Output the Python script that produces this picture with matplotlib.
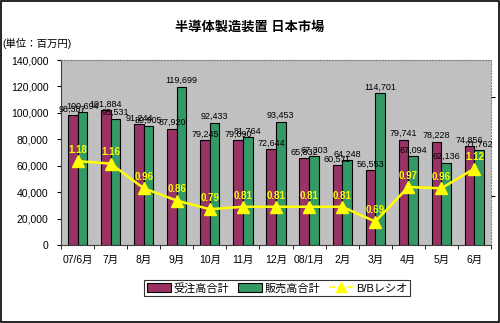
import matplotlib
matplotlib.use("Agg")
import matplotlib.pyplot as plt
import numpy as np
from matplotlib.patches import Rectangle
from matplotlib.lines import Line2D
from matplotlib.patches import Patch

plt.rcParams['font.family'] = ['Liberation Sans', 'Noto Sans CJK JP', 'DejaVu Sans']

categories = ['07/6月', '7月', '8月', '9月', '10月', '11月', '12月',
              '08/1月', '2月', '3月', '4月', '5月', '6月']
orders = [98387, 101884, 91244, 87920, 79245, 79090, 72644,
          65832, 60511, 56553, 79741, 78228, 74856]
sales = [100694, 95531, 89905, 119699, 92433, 81764, 93453,
         67303, 64248, 114701, 67094, 62136, 71762]
ratio = [1.18, 1.16, 0.96, 0.86, 0.79, 0.81, 0.81,
         0.81, 0.81, 0.69, 0.97, 0.96, 1.12]
yticks = [0, 20000, 40000, 60000, 80000, 100000, 120000, 140000]

W, H = 500, 323
fig = plt.figure(figsize=(W / 100, H / 100), dpi=100)
fig.patch.set_facecolor('white')
fig.add_artist(Rectangle((0.001, 0.002), 0.996, 0.995, transform=fig.transFigure,
                         fill=False, edgecolor='black', linewidth=1.2))

ax = fig.add_axes([61 / W, 1 - 245 / H, (491 - 61) / W, (245 - 60) / H])
ax.set_facecolor('#C0C0C0')
x = np.arange(len(categories))
bw = 0.29
c1, c2 = '#993366', '#339966'
b1 = ax.bar(x - bw / 2, orders, bw, color=c1, edgecolor='black', linewidth=0.8)
b2 = ax.bar(x + bw / 2, sales, bw, color=c2, edgecolor='black', linewidth=0.8)
ax.set_xlim(-0.5, len(categories) - 0.5)
ax.set_ylim(0, 140000)
ax.set_yticks(yticks)
ax.set_yticklabels([f'{v:,}' for v in yticks], fontsize=7.5)
ax.set_xticks(x)
ax.set_xticklabels(categories, fontsize=7.5)
ax.tick_params(axis='x', length=0, pad=7)
ax.set_xticks(np.arange(-0.5, len(categories), 1), minor=True)
ax.tick_params(axis='x', which='minor', length=3, direction='out')
ax.tick_params(axis='y', length=3, direction='out', pad=6)
for s in ['top', 'right']:
    ax.spines[s].set_color('#808080')
    ax.spines[s].set_linestyle(':')
ax.spines['left'].set_color('#404040')
ax.spines['bottom'].set_color('#404040')

for xi, v in zip(x, orders):
    ax.text(xi - bw / 2, v + 1200, f'{v:,}', ha='center', va='bottom', fontsize=6.5)
for xi, v in zip(x, sales):
    ax.text(xi + bw / 2, v + 1200, f'{v:,}', ha='center', va='bottom', fontsize=6.5)

ax2 = ax.twinx()
ax2.set_ylim(0.5, 2.0)
ax2.plot(x, ratio, color='#FFFF00', linewidth=1.8, marker='^', markersize=8,
         markerfacecolor='#FFFF00', markeredgecolor='#FFFF00')
for xi, r in zip(x, ratio):
    ax2.text(xi, r + 0.05, f'{r:.2f}', ha='center', va='bottom', fontsize=7,
             color='#FFFF00', fontweight='bold')
ax2.set_yticks([0.9, 1.7])
ax2.set_yticklabels([])
ax2.tick_params(axis='y', length=3, direction='out')
for s in ['top', 'right', 'left', 'bottom']:
    ax2.spines[s].set_visible(False)

fig.text(0.5, 1 - 27 / H, '半導体製造装置 日本市場', ha='center', va='center',
         fontsize=9.5, fontweight='bold')
fig.text(0.004, 1 - 43 / H, '(単位：百万円)', ha='left', va='center', fontsize=7.5)

handles = [Patch(facecolor=c1, edgecolor='black', linewidth=0.8),
           Patch(facecolor=c2, edgecolor='black', linewidth=0.8),
           Line2D([0], [0], color='#FFFF00', linestyle='--', marker='^',
                  markersize=7, linewidth=1.2)]
leg = fig.legend(handles, ['受注高合計', '販売高合計', 'B/Bレシオ'],
                 loc='center', bbox_to_anchor=(277 / W, 1 - 288 / H), ncol=3,
                 fontsize=8, frameon=True, fancybox=False, edgecolor='black',
                 handlelength=2.2, handleheight=0.8, handletextpad=0.2,
                 columnspacing=0.8, borderpad=0.25)
leg.get_frame().set_linewidth(0.8)

fig.savefig('out.png', dpi=100)
